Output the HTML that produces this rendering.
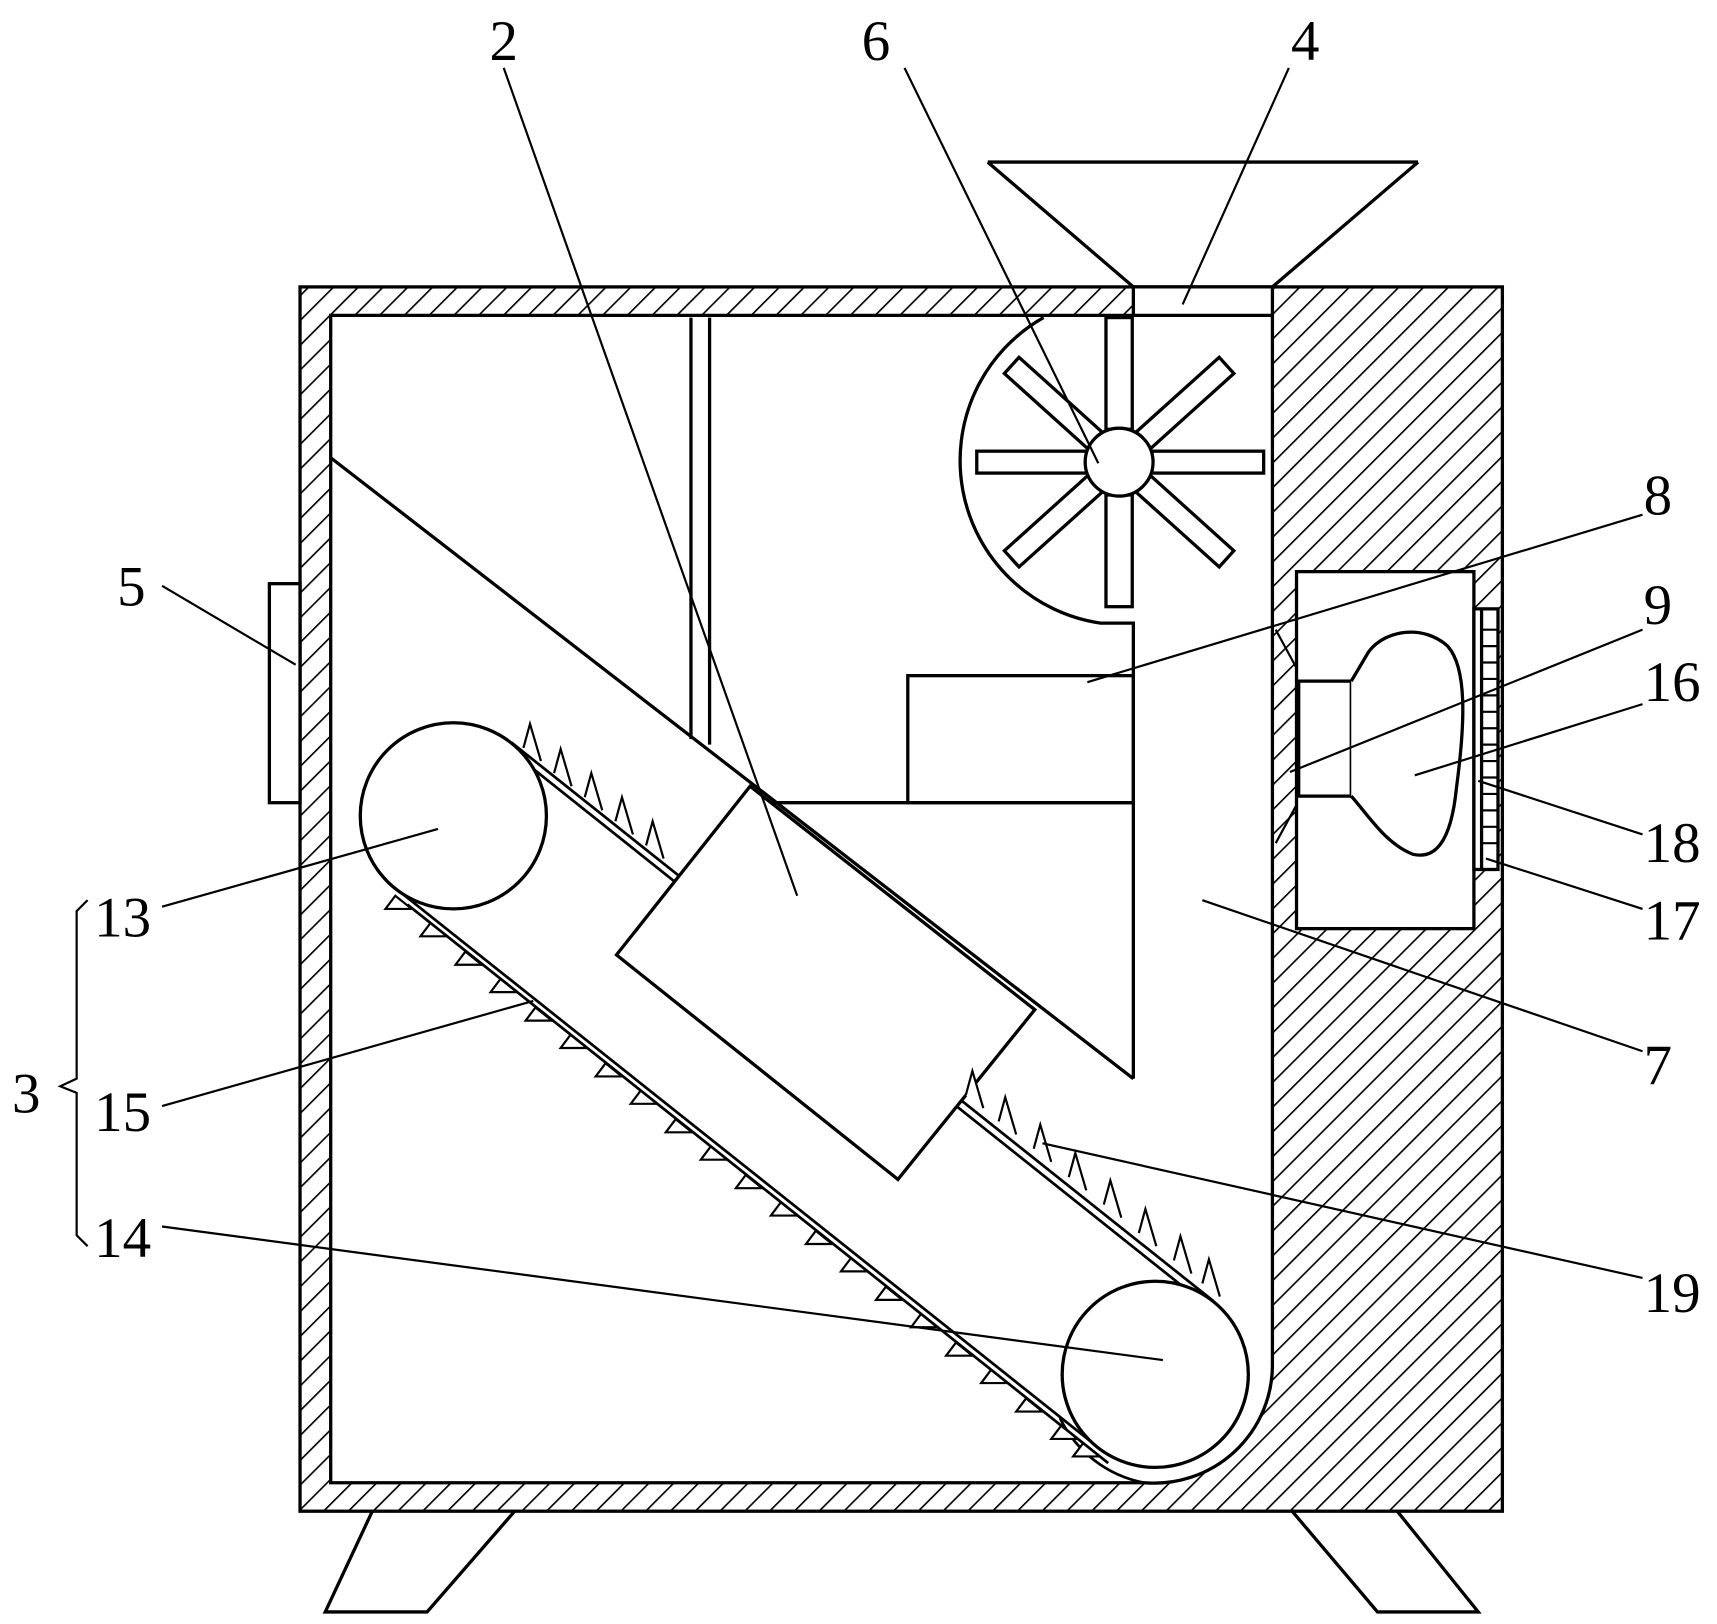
<!DOCTYPE html>
<html><head><meta charset="utf-8"><style>html,body{margin:0;padding:0;background:#fff}svg{display:block}</style></head>
<body>
<svg width="1717" height="1624" viewBox="0 0 1568 1483" preserveAspectRatio="none" xmlns="http://www.w3.org/2000/svg">
<defs>
<pattern id="h" patternUnits="userSpaceOnUse" width="16" height="16" patternTransform="rotate(45)">
<rect width="16" height="16" fill="#fff"/><line x1="0" y1="0" x2="0" y2="16" stroke="#000" stroke-width="3"/>
</pattern>
<path id="t" d="M0,0 L-24,0 L-15,-12 Z" fill="#fff" stroke="#000" stroke-width="2"/>
</defs>
<g fill="none" stroke="#000" stroke-width="3">
<rect x="274" y="262" width="1098" height="1118" fill="url(#h)"/>
<path d="M302,288 L1035,288 L1035,262 L1162,262 L1162,1245 A108 108 0 0 1 1045,1354 L302,1354 Z" fill="#fff"/>
<rect x="1184" y="522" width="162" height="326" fill="#fff"/>
<rect x="1346" y="556" width="22" height="238" fill="#fff"/>
<line x1="1353" y1="556" x2="1353" y2="794"/>
<g stroke-width="2">
<line x1="1353" y1="575" x2="1368" y2="575"/><line x1="1353" y1="590" x2="1368" y2="590"/><line x1="1353" y1="605" x2="1368" y2="605"/><line x1="1353" y1="620" x2="1368" y2="620"/><line x1="1353" y1="635" x2="1368" y2="635"/><line x1="1353" y1="650" x2="1368" y2="650"/><line x1="1353" y1="665" x2="1368" y2="665"/><line x1="1353" y1="680" x2="1368" y2="680"/><line x1="1353" y1="695" x2="1368" y2="695"/><line x1="1353" y1="710" x2="1368" y2="710"/><line x1="1353" y1="725" x2="1368" y2="725"/><line x1="1353" y1="740" x2="1368" y2="740"/><line x1="1353" y1="755" x2="1368" y2="755"/><line x1="1353" y1="770" x2="1368" y2="770"/>
</g>
<rect x="1186" y="622" width="48" height="105" fill="#fff"/>
<path d="M1234,622 L1250,595 C1265,575 1300,570 1322,590 C1340,610 1338,660 1330,720 C1325,770 1310,785 1290,780 C1265,770 1250,745 1234,727" fill="#fff"/>
<path d="M1165,575 L1184,610 M1165,770 L1184,735" stroke-width="2"/>
<line x1="1035" y1="288" x2="1162" y2="288"/>
<path d="M902,148 L1295,148 M902,148 L1035,262 M1295,148 L1162,262"/>
<path d="M631,290 V675 M648,290 V680"/>
<path d="M953,290 A150 150 0 0 0 1005,569 L1035,569 L1035,985"/>
<g transform="translate(1022,422)" fill="#fff">
<rect x="-12" y="-132" width="24" height="102"/>
<rect x="-12" y="30" width="24" height="102"/>
<rect x="30" y="-10" width="102" height="20"/>
<rect x="-130" y="-10" width="100" height="20"/>
<rect x="30" y="-10" width="102" height="20" transform="rotate(-42)"/>
<rect x="30" y="-10" width="102" height="20" transform="rotate(42)"/>
<rect x="30" y="-10" width="102" height="20" transform="rotate(138)"/>
<rect x="30" y="-10" width="102" height="20" transform="rotate(-138)"/>
<circle r="31"/>
</g>
<rect x="829" y="617" width="206" height="116"/>
<line x1="690" y1="733" x2="1035" y2="733"/>
<line x1="302" y1="418" x2="1035" y2="985"/>
<rect x="246" y="533" width="28" height="200" fill="#fff"/>
<g stroke-width="2.5">
<line x1="467" y1="678" x2="1108" y2="1188"/>
<line x1="478" y1="695" x2="1118" y2="1205"/>
<line x1="361" y1="811" x2="1002" y2="1321"/>
<line x1="372" y1="826" x2="1012" y2="1336"/>
</g>
<circle cx="414" cy="745" r="85" fill="#fff"/>
<circle cx="1055" cy="1255" r="85" fill="#fff"/>
<path d="M968,1295 A108 108 0 0 0 1045,1354" stroke-width="2.5"/>
<path d="M685,718 L563,872 L820,1077 L945,922 Z" fill="#fff"/>
<g stroke-width="2" fill="#fff">
<path d="M478,683 l6,-22 l10,34 M506,706 l6,-22 l10,34 M534,728 l6,-22 l10,34 M562,750 l6,-22 l10,34 M590,772 l6,-22 l10,34"/>
<path d="M882,1000 l6,-22 l10,34 M912,1024 l6,-22 l10,34 M944,1049 l6,-22 l10,34 M976,1075 l6,-22 l10,34 M1008,1100 l6,-22 l10,34 M1040,1126 l6,-22 l10,34 M1072,1151 l6,-22 l10,34 M1098,1172 l6,-22 l10,34"/>
</g>
</g>
<g>
<use href="#t" x="376" y="830"/><use href="#t" x="408" y="855"/><use href="#t" x="440" y="881"/><use href="#t" x="472" y="906"/><use href="#t" x="504" y="932"/><use href="#t" x="536" y="957"/><use href="#t" x="568" y="983"/><use href="#t" x="600" y="1008"/><use href="#t" x="632" y="1034"/><use href="#t" x="664" y="1059"/><use href="#t" x="696" y="1085"/><use href="#t" x="728" y="1110"/><use href="#t" x="760" y="1136"/><use href="#t" x="792" y="1161"/><use href="#t" x="824" y="1187"/><use href="#t" x="856" y="1212"/><use href="#t" x="888" y="1238"/><use href="#t" x="920" y="1263"/><use href="#t" x="952" y="1289"/><use href="#t" x="984" y="1314"/><use href="#t" x="1004" y="1330"/>
</g>
<g fill="none" stroke="#000" stroke-width="3">
<path d="M340,1380 L297,1472 L390,1472 L470,1380"/>
<path d="M1180,1380 L1258,1472 L1350,1472 L1276,1380"/>
<g stroke-width="2">
<line x1="460" y1="62" x2="728" y2="818"/>
<line x1="826" y1="62" x2="1003" y2="423"/>
<line x1="1177" y1="62" x2="1080" y2="278"/>
<line x1="1500" y1="470" x2="993" y2="623"/>
<line x1="148" y1="535" x2="270" y2="607"/>
<line x1="1500" y1="575" x2="1178" y2="705"/>
<line x1="1500" y1="643" x2="1292" y2="708"/>
<line x1="1500" y1="762" x2="1350" y2="713"/>
<line x1="1500" y1="830" x2="1357" y2="784"/>
<line x1="148" y1="828" x2="400" y2="757"/>
<line x1="148" y1="1010" x2="487" y2="914"/>
<line x1="1500" y1="960" x2="1098" y2="822"/>
<line x1="148" y1="1120" x2="1062" y2="1242"/>
<line x1="1500" y1="1167" x2="952" y2="1044"/>
<path d="M80,822 L70,832 L70,985 L55,992 L70,998 L70,1128 L80,1138"/>
</g>
</g>
<g font-family="Liberation Serif, serif" font-size="52" fill="#000" text-anchor="middle">
<text x="460" y="55">2</text>
<text x="800" y="55">6</text>
<text x="1192" y="55">4</text>
<text x="1514" y="470">8</text>
<text x="120" y="553">5</text>
<text x="1514" y="570">9</text>
<text x="1527" y="640">16</text>
<text x="1527" y="787">18</text>
<text x="112" y="855">13</text>
<text x="1527" y="858">17</text>
<text x="24" y="1016">3</text>
<text x="112" y="1033">15</text>
<text x="1514" y="990">7</text>
<text x="112" y="1148">14</text>
<text x="1527" y="1198">19</text>
</g>
</svg>
</body></html>
